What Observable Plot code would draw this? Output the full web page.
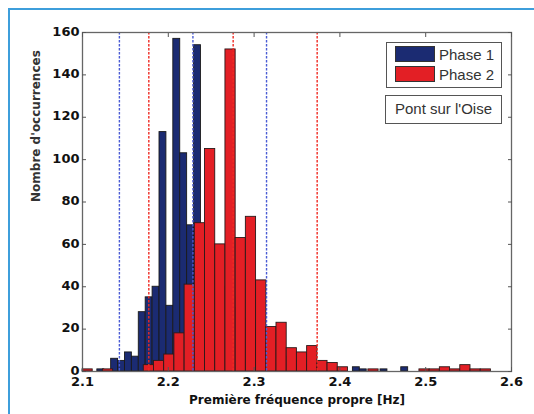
<!DOCTYPE html>
<html>
<head>
<meta charset="utf-8">
<script src="https://cdn.jsdelivr.net/npm/d3@7"></script>
<script src="https://cdn.jsdelivr.net/npm/@observablehq/plot@0.6"></script>
<style>
  html, body { margin: 0; padding: 0; background: #fff; }
  #wrap { position: relative; width: 534px; height: 414px; overflow: hidden; background: #fff; }
  #chart svg { display: block; }
  .legend { position: absolute; left: 386px; top: 42px; width: 116px; height: 46px; border: 1.5px solid #555; background: #fff; box-sizing: border-box; font-family: "Liberation Sans", Arial, sans-serif; font-size: 15px; color: #333; }
  .legend .item { position: absolute; left: 8px; height: 16px; display: flex; align-items: center; }
  .legend .sw { width: 40px; height: 16px; box-sizing: border-box; border: 1px solid #333; margin-right: 4px; }
  .note { position: absolute; left: 385px; top: 95px; width: 117px; height: 29px; border: 1.5px solid #555; background: #fff; box-sizing: border-box; font-family: "Liberation Sans", Arial, sans-serif; font-size: 15px; color: #333; text-align: center; line-height: 26px; }
  .border { position: absolute; left: 8px; top: 8px; width: 600px; height: 600px; border-left: 2px solid #3d9edb; border-top: 2px solid #3d9edb; pointer-events: none; }
</style>
</head>
<body>
<div id="wrap">
  <div id="chart"></div>
</div>
<script>
// ---- Data ----
const seriesNames = ["Phase 1", "Phase 2"];
const seriesColors = ["#1b2b72", "#e31f25"];
const noteText = "Pont sur l'Oise";
const xLabel = "Première fréquence propre [Hz]";
const yLabel = "Nombre d'occurrences";
const xTicks = [2.1, 2.2, 2.3, 2.4, 2.5, 2.6];
const yTicks = [0, 20, 40, 60, 80, 100, 120, 140, 160];

// Phase 1 histogram: 45 bins starting at 2.1173, width 0.00805 Hz
const phase1BinStart = 2.1173;
const phase1BinWidth = 0.00805;
const phase1Counts = [1, 0, 6, 5, 9, 7, 28, 35, 40, 113, 31, 157, 103, 69, 154,
  55, 60, 45, 40, 35, 30, 25, 20, 18, 14, 12, 10, 7, 5, 4, 3, 2, 2, 1, 1, 0, 0,
  2, 1, 0, 0, 1, 0, 0, 2];

// Phase 2 histogram: 40 bins starting at 2.1, width 0.0119 Hz
const phase2BinStart = 2.1;
const phase2BinWidth = 0.0119;
const phase2Counts = [1, 0, 1, 0, 0, 0, 3, 5, 8, 18, 41, 70, 105, 60, 152, 63, 73,
  43, 21, 23, 11, 9, 12, 5, 4, 2, 0, 0, 1, 0, 0, 0, 0, 1, 1, 2, 1, 3, 1, 1];

// Vertical dashed reference lines (mean and mean ± 2σ)
const phase1Lines = [2.1430, 2.2287, 2.3145];
const phase2Lines = [2.1773, 2.2756, 2.3735];

// ---- Build tables ----
function bins(start, width, counts) {
  return counts.map((c, i) => ({x1: start + i * width, x2: start + (i + 1) * width, y: c}))
               .filter(d => d.y > 0);
}
const phase1 = bins(phase1BinStart, phase1BinWidth, phase1Counts);
const phase2 = bins(phase2BinStart, phase2BinWidth, phase2Counts);

const tickFont = {fontSize: 13, fontWeight: "bold", fontFamily: "DejaVu Sans", fill: "#111"};

const chart = Plot.plot({
  width: 534,
  height: 414,
  marginLeft: 82,
  marginRight: 23,
  marginTop: 32,
  marginBottom: 43,
  style: {fontFamily: "DejaVu Sans", background: "transparent", overflow: "visible"},
  x: {domain: [2.1, 2.6]},
  y: {domain: [0, 160]},
  marks: [
    Plot.rectY(phase1, {x1: "x1", x2: "x2", y: "y", fill: seriesColors[0], stroke: "#1a1a1a", strokeWidth: 0.9}),
    Plot.rectY(phase2, {x1: "x1", x2: "x2", y: "y", fill: seriesColors[1], stroke: "#2a1a1a", strokeWidth: 0.9}),
    Plot.ruleX(phase1Lines, {stroke: "#4a5cd4", strokeWidth: 1.4, strokeDasharray: "2.5,1.5"}),
    Plot.ruleX(phase2Lines, {stroke: "#f02a22", strokeWidth: 1.4, strokeDasharray: "2.5,1.5"}),
    Plot.frame({stroke: "#666", strokeWidth: 1.3}),
    // inward ticks on all four sides
    Plot.axisX({ticks: xTicks, anchor: "bottom", tickSize: 4, dy: -4, tickFormat: () => "", label: null, stroke: "#555"}),
    Plot.axisX({ticks: xTicks, anchor: "top", tickSize: 4, dy: 4, tickFormat: () => "", label: null, stroke: "#555"}),
    Plot.axisY({ticks: yTicks, anchor: "left", tickSize: 4, dx: 4, tickFormat: () => "", label: null, stroke: "#555"}),
    Plot.axisY({ticks: yTicks, anchor: "right", tickSize: 4, dx: -4, tickFormat: () => "", label: null, stroke: "#555"}),
    // tick labels
    Plot.axisX({ticks: xTicks, anchor: "bottom", tickSize: 0, tickPadding: 5, tickFormat: d => d.toFixed(1), label: null, ...tickFont}),
    Plot.axisY({ticks: yTicks, anchor: "left", tickSize: 0, tickPadding: 3, dy: -1, tickFormat: d => String(d), label: null, ...tickFont}),
    // axis titles
    Plot.text([xLabel], {frameAnchor: "bottom", dy: 32, fontSize: 12, fontWeight: "bold", fontFamily: "DejaVu Sans", fill: "#111"}),
    Plot.text([yLabel], {frameAnchor: "left", dx: -46, rotate: -90, fontSize: 12, fontWeight: "bold", fontFamily: "DejaVu Sans", fill: "#333"})
  ]
});
document.getElementById("chart").appendChild(chart);

// ---- Legend and note ----
const wrap = document.getElementById("wrap");
const legend = document.createElement("div");
legend.className = "legend";
seriesNames.forEach((name, i) => {
  const item = document.createElement("div");
  item.className = "item";
  item.style.top = (3 + i * 20) + "px";
  const sw = document.createElement("div");
  sw.className = "sw";
  sw.style.background = seriesColors[i];
  const label = document.createElement("span");
  label.textContent = name;
  item.appendChild(sw);
  item.appendChild(label);
  legend.appendChild(item);
});
wrap.appendChild(legend);

const note = document.createElement("div");
note.className = "note";
note.textContent = noteText;
wrap.appendChild(note);

const border = document.createElement("div");
border.className = "border";
wrap.appendChild(border);
</script>
</body>
</html>
